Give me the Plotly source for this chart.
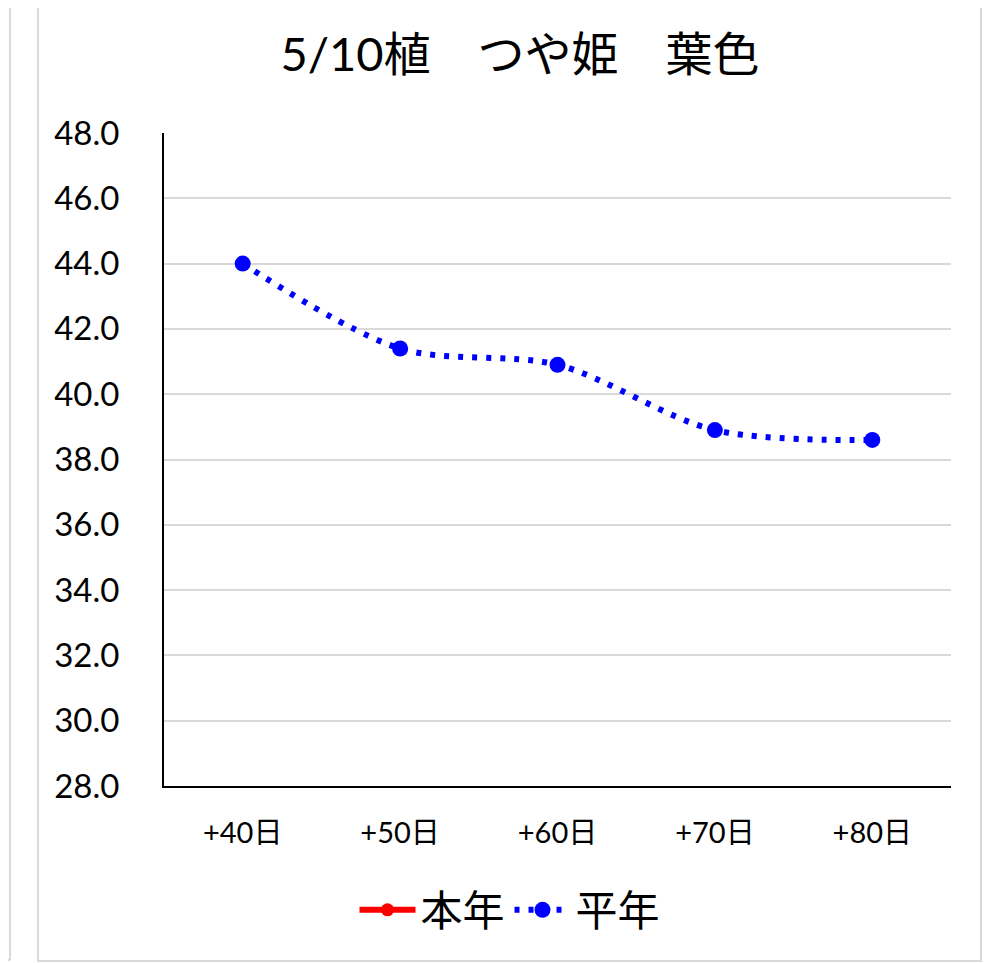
import plotly.graph_objects as go

categories = ["+40日", "+50日", "+60日", "+70日", "+80日"]
this_year = [None, None, None, None, None]
avg_year = [44.0, 41.4, 40.9, 38.9, 38.6]
y_ticks = [28, 30, 32, 34, 36, 38, 40, 42, 44, 46, 48]

FONT = "Lato, 'Noto Sans CJK JP', sans-serif"

fig = go.Figure()
fig.add_trace(go.Scatter(
    x=categories, y=this_year, name="本年", mode="lines+markers",
    line=dict(color="#ff0000", width=6),
    marker=dict(color="#ff0000", size=13),
))
fig.add_trace(go.Scatter(
    x=categories, y=avg_year, name="平年", mode="lines+markers",
    line=dict(color="#0000ff", width=6, dash="5px,9px", shape="spline", smoothing=0.9),
    marker=dict(color="#0000ff", size=16),
))

OFF = 8  # page offset of the figure inside the browser window
W, H = 999 - OFF, 963 - OFF
L, R, T, B = 164 - OFF, 999 - 951, 133 - OFF, 963 - 786
pw, ph = W - L - R, H - T - B

def px(x):
    return (x - OFF - L) / pw

def py(y):
    return (H - B - (y - OFF)) / ph

frame = dict(color="#d9d9d9", width=2)
shapes = [
    dict(type="rect", xref="paper", yref="paper",
         x0=px(38), x1=px(981), y0=py(961), y1=py(-5),
         line=frame, fillcolor="rgba(0,0,0,0)", layer="below"),
    dict(type="line", xref="paper", yref="paper",
         x0=px(10), x1=px(10), y0=py(-5), y1=py(960), line=frame),
    dict(type="line", xref="paper", yref="paper",
         x0=px(0), x1=px(10), y0=py(960), y1=py(960), line=frame),
]

fig.update_layout(
    width=W, height=H,
    margin=dict(l=L, r=R, t=T, b=B, autoexpand=False),
    paper_bgcolor="white", plot_bgcolor="white",
    font=dict(family=FONT, color="black"),
    title=dict(text="5/10植　つや姫　葉色", x=(520 - OFF) / W, xref="container", xanchor="center",
               y=1 - (55 - OFF) / H, yref="container", yanchor="middle",
               font=dict(size=47, family=FONT, color="black")),
    xaxis=dict(
        type="category", showline=True, linecolor="black", linewidth=2,
        showgrid=False, ticks="", tickfont=dict(size=29), ticklabelstandoff=20,
        tickangle=0, automargin=False,
        range=[-0.5, 4.5], fixedrange=True,
    ),
    yaxis=dict(
        range=[28, 48], tickvals=y_ticks, tickformat=".1f",
        showline=True, linecolor="black", linewidth=2,
        showgrid=True, gridcolor="#d9d9d9", gridwidth=2,
        ticks="", tickfont=dict(size=33), ticklabelstandoff=36,
        automargin=False,
        zeroline=False, fixedrange=True,
    ),
    legend=dict(orientation="h", x=px(510), xanchor="center", xref="paper",
                y=py(910), yanchor="middle", font=dict(size=42), itemwidth=56,
                bgcolor="rgba(0,0,0,0)"),
    shapes=shapes,
    showlegend=True,
)

fig.write_html("out.html")
